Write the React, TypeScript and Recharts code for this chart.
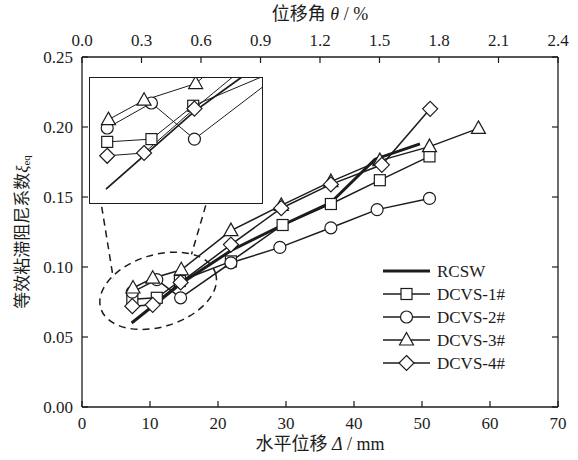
import React from "react";
import { LineChart, Line, XAxis, YAxis, Legend, ReferenceDot, ReferenceLine } from "recharts";

const INK = "#1c1c1c";
const SERIF = '"Liberation Serif", "Noto Sans CJK SC", serif';

// 水平位移 Δ (mm) / 等效粘滞阻尼系数 ξeq
const rcswDisp = [7.3, 14.5, 22.0, 29.5, 36.6, 43.1, 49.7];
const rcswXi = [0.06, 0.088, 0.112, 0.13, 0.146, 0.177, 0.188];
const dcvs1Disp = [7.4, 11.0, 14.4, 21.9, 29.5, 36.6, 43.8, 51.1];
const dcvs1Xi = [0.077, 0.078, 0.09, 0.104, 0.13, 0.145, 0.162, 0.179];
const dcvs2Disp = [7.4, 11.0, 14.5, 21.9, 29.1, 36.6, 43.4, 51.1];
const dcvs2Xi = [0.082, 0.091, 0.078, 0.103, 0.114, 0.128, 0.141, 0.149];
const dcvs3Disp = [7.5, 10.4, 14.6, 21.9, 29.3, 36.6, 43.8, 51.1, 58.3];
const dcvs3Xi = [0.085, 0.092, 0.098, 0.126, 0.144, 0.161, 0.176, 0.186, 0.199];
const dcvs4Disp = [7.4, 10.4, 14.5, 21.9, 29.3, 36.6, 44.1, 51.2];
const dcvs4Xi = [0.072, 0.073, 0.089, 0.116, 0.142, 0.159, 0.173, 0.213];

const dispTicks = [0, 10, 20, 30, 40, 50, 60, 70];
const xiTicks = [0, 0.05, 0.1, 0.15, 0.2, 0.25];
const thetaTicks = [0, 0.3, 0.6, 0.9, 1.2, 1.5, 1.8, 2.1, 2.4];
const insetDispTicks = [10, 15];
const insetXiTicks = [0.06, 0.065, 0.07, 0.075, 0.08, 0.085, 0.09, 0.095];

// dashed ellipse around the zoomed region and its two leader lines
const zoomCenter = { x: 11.2, y: 0.083 };
const zoomLeads = [
  [{ x: 2.9, y: 0.143 }, { x: 4.6, y: 0.092 }],
  [{ x: 18.2, y: 0.144 }, { x: 16.1, y: 0.109 }],
];

type Shape = "none" | "square" | "circle" | "triangle" | "diamond";

const toRows = (disp: number[], xi: number[]) => disp.map((d, i) => ({ disp: d, xi: xi[i] }));

const series: { name: string; rows: { disp: number; xi: number }[]; shape: Shape }[] = [
  { name: "RCSW", rows: toRows(rcswDisp, rcswXi), shape: "none" },
  { name: "DCVS-1#", rows: toRows(dcvs1Disp, dcvs1Xi), shape: "square" },
  { name: "DCVS-2#", rows: toRows(dcvs2Disp, dcvs2Xi), shape: "circle" },
  { name: "DCVS-3#", rows: toRows(dcvs3Disp, dcvs3Xi), shape: "triangle" },
  { name: "DCVS-4#", rows: toRows(dcvs4Disp, dcvs4Xi), shape: "diamond" },
];

// the top (drift ratio) axis needs a series bound to it so recharts builds its scale
const thetaRows = thetaTicks.map((t) => ({ theta: t, xi: null }));

function Marker({ shape, cx, cy }: { shape: Shape; cx: number; cy: number }) {
  const common = { fill: "#fff", stroke: INK, strokeWidth: 1.2 };
  if (shape === "square") return <rect x={cx - 5.5} y={cy - 5.5} width={11} height={11} {...common} />;
  if (shape === "circle") return <circle cx={cx} cy={cy} r={6} {...common} />;
  if (shape === "triangle")
    return <path d={`M${cx},${cy - 7.5} L${cx + 7},${cy + 5} L${cx - 7},${cy + 5} Z`} {...common} />;
  if (shape === "diamond")
    return <path d={`M${cx},${cy - 7.5} L${cx + 7.5},${cy} L${cx},${cy + 7.5} L${cx - 7.5},${cy} Z`} {...common} />;
  return null;
}

const dotFor = (shape: Shape) =>
  shape === "none"
    ? false
    : (p: any) => (
        <g key={`d-${shape}-${p.index}`}>
          <Marker shape={shape} cx={p.cx} cy={p.cy} />
        </g>
      );

const LeftTick = ({ x, y, payload }: any) => (
  <g>
    <line x1={x} y1={y} x2={x + 6} y2={y} stroke={INK} strokeWidth={1.2} />
    <text x={x - 9} y={y + 6} textAnchor="end" fontSize={17} fontFamily={SERIF} fill={INK}>
      {Number(payload.value).toFixed(2)}
    </text>
  </g>
);

const RightTick = ({ x, y }: any) => <line x1={x} y1={y} x2={x - 6} y2={y} stroke={INK} strokeWidth={1.2} />;

const BottomTick = ({ x, y, payload }: any) => (
  <g>
    <line x1={x} y1={y} x2={x} y2={y - 6} stroke={INK} strokeWidth={1.2} />
    <text x={x} y={y + 22} textAnchor="middle" fontSize={17} fontFamily={SERIF} fill={INK}>
      {payload.value}
    </text>
  </g>
);

const TopTick = ({ x, y, payload }: any) => (
  <g>
    <line x1={x} y1={y} x2={x} y2={y + 6} stroke={INK} strokeWidth={1.2} />
    <text x={x} y={y - 11} textAnchor="middle" fontSize={17} fontFamily={SERIF} fill={INK}>
      {Number(payload.value).toFixed(1)}
    </text>
  </g>
);

const InsetLeftTick = ({ x, y }: any) => <line x1={x} y1={y} x2={x + 4} y2={y} stroke={INK} strokeWidth={1} />;
const InsetBottomTick = ({ x, y }: any) => <line x1={x} y1={y} x2={x} y2={y - 4} stroke={INK} strokeWidth={1} />;

const YTitle = ({ viewBox }: any) => {
  const cx = viewBox.x + 22;
  const cy = viewBox.y + viewBox.height / 2;
  return (
    <text
      x={cx}
      y={cy}
      transform={`rotate(-90 ${cx} ${cy})`}
      textAnchor="middle"
      dominantBaseline="central"
      fontSize={17}
      fontFamily={SERIF}
      fill={INK}
    >
      等效粘滞阻尼系数<tspan fontStyle="italic">ξ</tspan>
      <tspan fontSize={11} dy={4}>eq</tspan>
    </text>
  );
};

const BottomTitle = ({ viewBox }: any) => (
  <text x={viewBox.x + viewBox.width / 2} y={viewBox.y + 43} textAnchor="middle" fontSize={18} fontFamily={SERIF} fill={INK}>
    水平位移 <tspan fontStyle="italic">Δ</tspan> / mm
  </text>
);

const TopTitle = ({ viewBox }: any) => (
  <text x={viewBox.x + viewBox.width / 2} y={viewBox.y + 20} textAnchor="middle" fontSize={18} fontFamily={SERIF} fill={INK}>
    位移角 <tspan fontStyle="italic">θ</tspan> / %
  </text>
);

const LegendBox = () => (
  <svg width={150} height={118}>
    {series.map((s, i) => {
      const y = 13 + i * 23;
      return (
        <g key={s.name}>
          <line x1={5} y1={y} x2={52} y2={y} stroke={INK} strokeWidth={s.shape === "none" ? 3 : 1.5} />
          <Marker shape={s.shape} cx={28.5} cy={y} />
          <text x={59} y={y + 6} fontSize={17} fontFamily={SERIF} fill={INK}>
            {s.name}
          </text>
        </g>
      );
    })}
  </svg>
);

const ZoomEllipse = (p: any) => (
  <ellipse
    cx={p.cx}
    cy={p.cy}
    rx={60}
    ry={36}
    transform={`rotate(-17 ${p.cx} ${p.cy})`}
    fill="none"
    stroke={INK}
    strokeWidth={1.5}
    strokeDasharray="7 5"
  />
);

export default function App() {
  return (
    <div style={{ position: "absolute", left: 0, top: 0, width: 578, height: 460, background: "#fff" }}>
      <LineChart width={578} height={460} margin={{ top: 0, right: 0, bottom: 0, left: 0 }}>
        <XAxis
          dataKey="disp"
          type="number"
          domain={[0, 70]}
          ticks={dispTicks}
          height={53}
          tickSize={0}
          tickMargin={0}
          tick={<BottomTick />}
          axisLine={{ stroke: INK, strokeWidth: 1.3 }}
          label={<BottomTitle />}
          allowDataOverflow
        />
        <XAxis
          xAxisId="theta"
          dataKey="theta"
          orientation="top"
          type="number"
          domain={[0, 2.4]}
          ticks={thetaTicks}
          height={57}
          tickSize={0}
          tickMargin={0}
          tick={<TopTick />}
          axisLine={{ stroke: INK, strokeWidth: 1.3 }}
          label={<TopTitle />}
          allowDataOverflow
        />
        <YAxis
          type="number"
          domain={[0, 0.25]}
          ticks={xiTicks}
          width={82}
          tickSize={0}
          tickMargin={0}
          tick={<LeftTick />}
          axisLine={{ stroke: INK, strokeWidth: 1.3 }}
          label={<YTitle />}
          allowDataOverflow
        />
        <YAxis
          yAxisId="r"
          orientation="right"
          type="number"
          domain={[0, 0.25]}
          ticks={xiTicks}
          width={20}
          tickSize={0}
          tickMargin={0}
          tick={<RightTick />}
          axisLine={{ stroke: INK, strokeWidth: 1.3 }}
          allowDataOverflow
        />
        <ReferenceDot x={zoomCenter.x} y={zoomCenter.y} shape={ZoomEllipse} />
        {zoomLeads.map((seg, i) => (
          <ReferenceLine key={i} segment={seg} stroke={INK} strokeWidth={1.5} strokeDasharray="7 5" />
        ))}
        <Line
          xAxisId="theta"
          data={thetaRows}
          dataKey="xi"
          stroke="none"
          dot={false}
          activeDot={false}
          legendType="none"
          isAnimationActive={false}
        />
        {series.map((s) => (
          <Line
            key={s.name}
            data={s.rows}
            dataKey="xi"
            name={s.name}
            type="linear"
            stroke={INK}
            strokeWidth={s.shape === "none" ? 3 : 1.5}
            dot={dotFor(s.shape)}
            activeDot={false}
            isAnimationActive={false}
          />
        ))}
        <Legend
          layout="vertical"
          align="center"
          verticalAlign="middle"
          wrapperStyle={{ left: 378, top: 258, width: 150 }}
          content={() => <LegendBox />}
        />
      </LineChart>

      <div
        style={{
          position: "absolute",
          left: 89,
          top: 77,
          width: 174,
          height: 127,
          boxSizing: "border-box",
          border: `1px solid ${INK}`,
          background: "#fff",
        }}
      >
        <LineChart width={172} height={125} margin={{ top: 0, right: 0, bottom: 0, left: 0 }}>
          <XAxis
            dataKey="disp"
            type="number"
            domain={[6, 20]}
            ticks={insetDispTicks}
            height={0}
            tickSize={0}
            tickMargin={0}
            tick={<InsetBottomTick />}
            axisLine={false}
            allowDataOverflow
          />
          <YAxis
            type="number"
            domain={[0.055, 0.1]}
            ticks={insetXiTicks}
            width={0}
            tickSize={0}
            tickMargin={0}
            tick={<InsetLeftTick />}
            axisLine={false}
            allowDataOverflow
          />
          {series.map((s) => (
            <Line
              key={s.name}
              data={s.rows}
              dataKey="xi"
              type="linear"
              stroke={INK}
              strokeWidth={s.shape === "none" ? 1.8 : 1}
              dot={dotFor(s.shape)}
              activeDot={false}
              isAnimationActive={false}
            />
          ))}
        </LineChart>
      </div>
    </div>
  );
}
